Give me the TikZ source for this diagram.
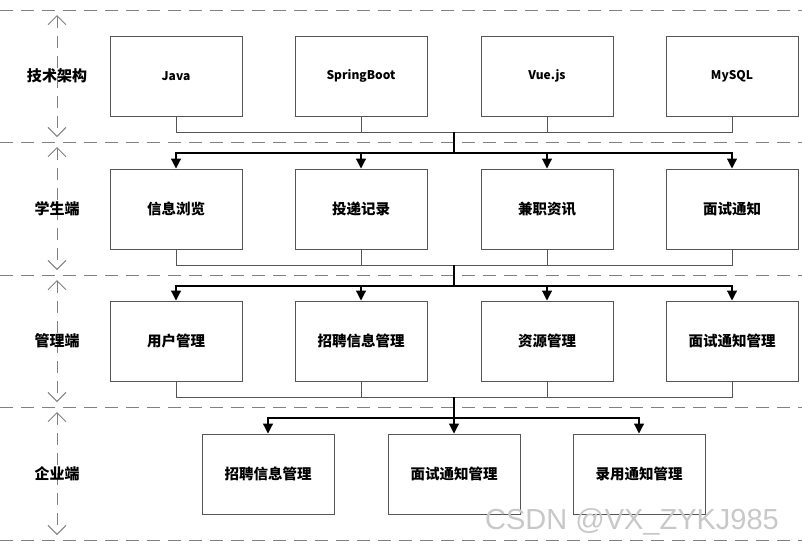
\documentclass[tikz,border=0pt]{standalone}
\usepackage{fontspec}
\setmainfont{Noto Sans CJK SC}
\newfontfamily\wmfont{Liberation Sans}
\usetikzlibrary{arrows.meta}
\definecolor{boxc}{HTML}{555555}
\definecolor{dashc}{HTML}{808080}
\definecolor{wm}{HTML}{C8C8C8}
\begin{document}
\begin{tikzpicture}[x=1pt,y=-1pt,
 box/.style={draw=boxc,line width=1pt,minimum width=132pt,minimum height=80pt,inner sep=0pt,font=\fontsize{14.5}{16}\selectfont\bfseries},
 latin/.style={font=\fontsize{12}{14}\selectfont\bfseries},
 lab/.style={font=\fontsize{15}{17}\selectfont\bfseries},
 sep/.style={dashc,line width=1pt,dash pattern=on 13pt off 8pt},
 band/.style={dashc,line width=0.9pt,dash pattern=on 12pt off 8pt,{Straight Barb[length=9pt,width=18pt]}-{Straight Barb[length=9pt,width=18pt]}},
 feed/.style={draw=boxc,line width=1pt},
 link/.style={draw=black,line width=1.2pt},
 arr/.style={link,-{Triangle[length=10pt,width=10pt]}}]
\useasboundingbox (0,0) rectangle (802,550);
% separators
\foreach \y in {10,142,275,407,540} \draw[sep] (0,\y) -- (802,\y);
% band arrows
\foreach \t/\b in {10/142,142/275,275/407,407/540} \draw[band] (57,\t+5) -- (57,\b-5);
% band labels
\node[lab] (l1) at (57,76) {技术架构};
\node[lab] (l2) at (57,209) {学生端};
\node[lab] (l3) at (57,341) {管理端};
\node[lab] (l4) at (57,474) {企业端};
% row 1
\node[box,latin] (a1) at (176,76) {Java};
\node[box,latin] (a2) at (361,76) {SpringBoot};
\node[box,latin] (a3) at (547,76) {Vue.js};
\node[box,latin] (a4) at (732,76) {MySQL};
% row 2
\node[box] (b1) at (176,209) {信息浏览};
\node[box] (b2) at (361,209) {投递记录};
\node[box] (b3) at (547,209) {兼职资讯};
\node[box] (b4) at (732,209) {面试通知};
% row 3
\node[box] (c1) at (176,341) {用户管理};
\node[box] (c2) at (361,341) {招聘信息管理};
\node[box] (c3) at (547,341) {资源管理};
\node[box] (c4) at (732,341) {面试通知管理};
% row 4
\node[box] (d1) at (268,474) {招聘信息管理};
\node[box] (d2) at (454,474) {面试通知管理};
\node[box] (d3) at (639,474) {录用通知管理};
% junctions
\coordinate (j1a) at (454,132);
\coordinate (j1b) at (454,153);
\coordinate (j2a) at (454,265);
\coordinate (j2b) at (454,286);
\coordinate (j3a) at (454,397);
\coordinate (j3b) at (454,418);
% row1 -> row2
\foreach \n in {a1,a2,a3,a4} \draw[feed] (\n.south) |- (j1a);
\draw[link] (j1a) -- (j1b);
\foreach \n in {b1,b2,b3,b4} \draw[arr] (j1b) -| (\n.north);
% row2 -> row3
\foreach \n in {b1,b2,b3,b4} \draw[feed] (\n.south) |- (j2a);
\draw[link] (j2a) -- (j2b);
\foreach \n in {c1,c2,c3,c4} \draw[arr] (j2b) -| (\n.north);
% row3 -> row4
\foreach \n in {c1,c2,c3,c4} \draw[feed] (\n.south) |- (j3a);
\draw[link] (j3a) -- (j3b);
\draw[arr] (j3b) -| (d1.north);
\draw[arr] (j3b) -- (d2.north);
\draw[arr] (j3b) -| (d3.north);
% watermark
\node[text=wm,font=\wmfont\fontsize{29}{30}\selectfont] (wm) at (632,522) {CSDN @VX\_ZYKJ985};
\end{tikzpicture}
\end{document}
